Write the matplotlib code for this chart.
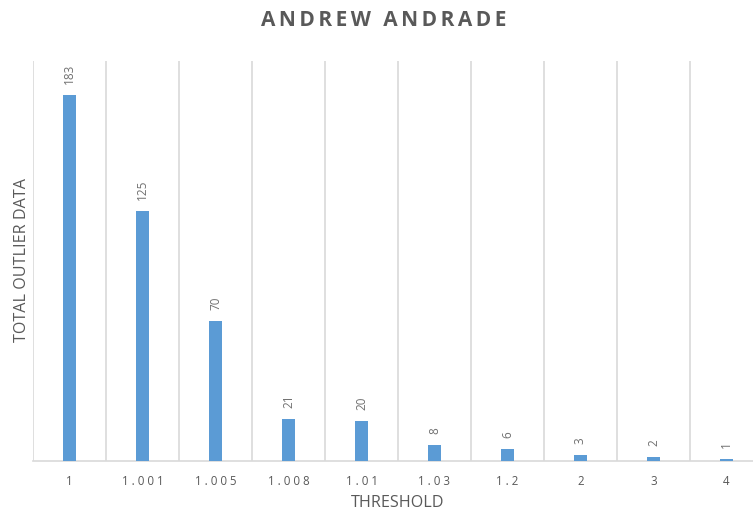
import matplotlib
matplotlib.use("Agg")
import matplotlib.pyplot as plt
import numpy as np

categories = ["1", "1.001", "1.005", "1.008", "1.01", "1.03", "1.2", "2", "3", "4"]
values = [183, 125, 70, 21, 20, 8, 6, 3, 2, 1]
title = "ANDREW ANDRADE"

W, H = 753, 514
fig = plt.figure(figsize=(W/100, H/100), dpi=100)
left = 33 / W
right = 763 / W
bottom = (H - 461) / H
top = (H - 61) / H
ax = fig.add_axes([left, bottom, right - left, top - bottom])

x = np.arange(len(categories))
ax.bar(x, values, width=0.18, color="#5b9bd5", zorder=3)
ax.set_xlim(-0.5, len(categories) - 0.5)
ax.set_ylim(0, 200)

for b in np.arange(-0.5, len(categories), 1.0):
    ax.axvline(b, color="#d9d9d9", lw=1.2, zorder=1)

for s in ["top", "right", "left"]:
    ax.spines[s].set_visible(False)
ax.spines["bottom"].set_color("#d9d9d9")
ax.spines["bottom"].set_linewidth(1.2)
ax.set_yticks([])
ax.set_xticks(x)
fam = ["Open Sans", "DejaVu Sans"]
spaced = [" ".join(c) for c in categories]
ax.set_xticklabels(spaced, fontsize=8.3, color="#595959", family=fam)
ax.tick_params(axis="x", length=0, pad=10)

for xi, v in zip(x, values):
    ax.annotate(str(v), (xi, v), xytext=(0, 8), textcoords="offset points",
                rotation=90, ha="center", va="bottom", fontsize=8.5,
                color="#707070", family=fam)

fig.text(0.5 * (33 + 763) / W, (H - 503) / H, "THRESHOLD", ha="center", va="center",
         fontsize=11.6, color="#595959", family=fam)
fig.text(22 / W, (H - 260) / H, "TOTAL OUTLIER DATA", ha="center", va="center",
         rotation=90, fontsize=11.6, color="#595959", family=fam)
fig.text(384 / W, (H - 20) / H, "\u2006".join(title),
         ha="center", va="center", fontsize=15, fontweight="bold",
         color="#595959", family=fam)

fig.savefig("out.png", dpi=100)
